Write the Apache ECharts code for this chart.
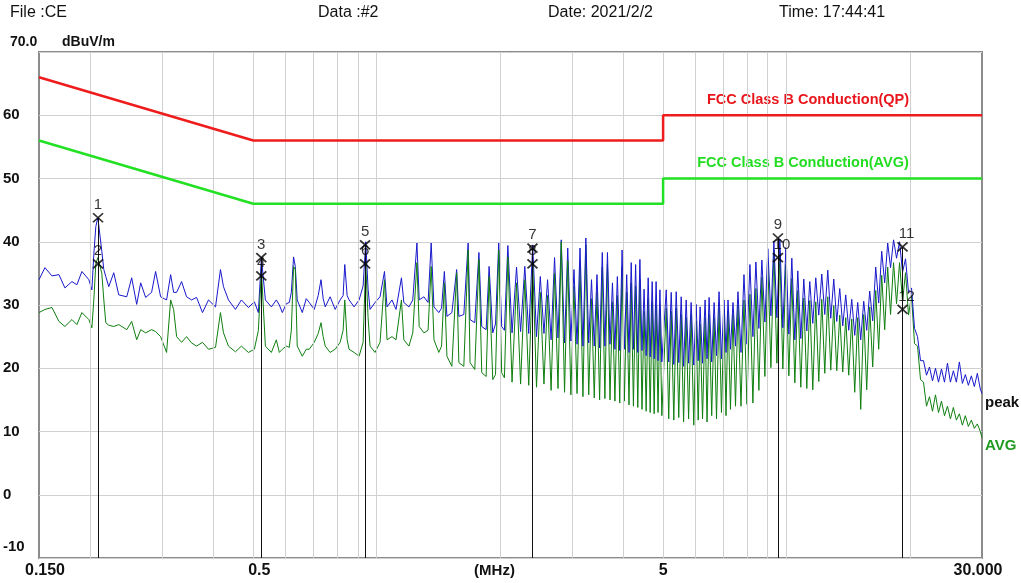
<!DOCTYPE html>
<html><head><meta charset="utf-8">
<script src="https://cdn.jsdelivr.net/npm/echarts@6/dist/echarts.min.js"></script>
<style>html,body{margin:0;padding:0;background:#fff}#c{width:1021px;height:583px}</style>
</head><body><div id="c"></div>
<script>
// ---- measured traces (MHz, dBuV) ----
const bandAFreq = [0.150,0.1551,0.1613,0.1678,0.1735,0.1805,0.1856,0.1909,0.1985,0.2019,0.2041,0.2064,0.2088,0.2111,0.2135,0.2159,0.2183,0.2220,0.2283,0.2348,0.2456,0.2525,0.2597,0.2656,0.2731,0.2824,0.2888,0.2971,0.3072,0.3143,0.3196,0.3250,0.3342,0.3437,0.3535,0.3635,0.3759,0.3888,0.4044,0.4158,0.4229,0.4349,0.4523,0.4677,0.4865,0.5031,0.5145,0.5233,0.5352,0.5535,0.5691];
const bandAPeak = [34.0,35.9,34.6,34.8,32.7,33.7,33.2,35.3,34.0,32.4,38.0,42.4,43.8,43.5,38.5,35.6,34.5,32.9,35.1,31.6,31.3,34.3,30.1,33.5,31.2,32.0,35.3,31.3,30.8,34.8,32.0,32.0,33.7,31.3,30.8,31.2,28.8,30.8,29.7,35.6,32.9,30.8,29.3,30.8,29.6,30.5,28.8,37.5,30.8,29.7,30.8];
const bandAAvg = [28.8,29.3,29.6,27.4,26.6,27.7,26.9,28.8,27.7,26.4,30.8,36.5,37.5,37.2,35.0,30.8,27.2,26.8,26.6,26.9,26.1,27.4,24.5,26.1,25.6,26.1,25.8,25.0,22.5,30.8,29.3,25.0,24.1,25.0,24.0,23.5,24.1,23.0,23.3,28.8,25.6,23.5,22.6,23.5,22.5,23.0,26.0,35.5,23.5,22.5,24.5];

const bandBFreq = [0.5788,0.5886,0.6019,0.6121,0.6192,0.627,0.6331,0.640,0.6585,0.6733,0.6848,0.7043,0.7201,0.7315,0.7405,0.7492,0.7699,0.792,0.8146,0.8283,0.836,0.8472,0.8566,0.881,0.9061,0.9267,0.9405,0.953,0.9636,0.991,1.0193,1.045,1.06,1.09,1.115,1.1495,1.165,1.199,1.225,1.254,1.27,1.304,1.335,1.3585,1.38,1.418,1.44,1.463,1.484,1.526,1.5675,1.587,1.632,1.672,1.69,1.7355,1.7765,1.805,1.85,1.881,1.92,1.95,1.9855,2.019,2.05,2.09];
const bandBPeak = [30.0,28.8,30.2,30.4,32.0,37.6,36.1,30.8,28.8,31.0,30.4,29.3,31.5,34.0,31.0,29.7,31.3,29.3,30.8,31.5,36.4,31.5,30.8,29.7,30.8,33.0,40.0,32.5,29.3,30.4,31.3,35.3,29.7,30.8,29.3,34.3,30.4,29.7,30.8,39.8,30.8,31.3,30.4,39.8,29.7,28.8,29.5,35.3,28.2,28.8,35.6,28.2,28.5,39.8,27.7,27.2,38.3,26.6,26.1,36.1,25.6,27.0,39.8,26.6,26.0,39.4];
const bandBAvg = [22.5,23.0,23.5,23.3,26.0,36.1,35.6,23.5,21.9,23.0,23.0,24.1,25.5,27.2,25.0,23.5,22.5,23.0,24.1,26.0,30.8,24.5,23.0,22.5,21.9,24.1,36.7,28.0,23.5,22.5,24.1,34.0,24.5,25.0,24.5,30.8,24.5,23.5,25.6,36.7,26.6,25.6,26.0,36.1,24.5,22.5,23.5,33.5,21.9,20.3,35.1,20.9,20.3,38.7,20.9,19.8,37.2,19.3,18.7,34.5,18.2,19.0,38.7,19.3,18.5,37.6];

const bandCFreq = [2.14,2.1945,2.245,2.299,2.35,2.4035,2.455,2.508,2.56,2.6125,2.665,2.717,2.77,2.8215,2.874,2.926,2.978,3.0305,3.083,3.135,3.187,3.2395,3.292,3.344,3.396,3.4485,3.50,3.553,3.605,3.6575,3.71,3.762,3.814,3.8665,3.919,3.971,4.023,4.0755,4.128,4.18,4.232,4.2845,4.337,4.389,4.441,4.4935,4.546,4.598,4.65,4.7025,4.755,4.807,4.86,4.9115,4.964,5.089,5.16,5.233,5.31,5.382,5.46,5.535,5.61,5.692,5.77,5.853,5.94,6.02,6.09,6.156,6.24,6.331,6.40,6.475,6.57,6.659,6.75,6.847,6.94,7.042,7.12,7.201,7.30,7.405,7.51,7.615];
const bandCPeak = [25.6,36.0,25.8,36.1,25.5,39.5,25.0,34.5,25.5,34.0,24.5,37.5,24.8,40.3,24.0,39.0,24.3,35.6,23.8,39.0,23.5,40.6,24.0,34.0,23.5,34.8,23.2,38.3,23.5,38.3,23.8,33.5,23.0,34.5,22.8,38.7,23.0,34.8,22.5,36.7,23.0,36.4,22.5,37.2,22.8,32.5,22.0,34.3,21.8,33.7,21.5,33.7,21.2,32.4,21.0,32.4,21.0,32.0,20.6,32.1,20.9,31.3,20.3,30.8,20.8,30.4,20.5,30.1,21.2,29.7,20.8,30.8,21.5,31.2,21.0,30.4,22.0,32.1,21.5,30.8,22.5,30.8,23.0,30.4,23.5,32.1];
const bandCAvg = [17.8,33.5,17.5,34.0,17.3,36.5,17.0,32.0,17.5,31.5,16.5,35.0,16.8,40.0,16.2,37.0,15.8,33.0,16.0,36.0,15.5,39.5,15.8,31.0,15.3,32.0,15.0,36.0,15.2,36.5,15.0,30.5,14.8,31.5,14.5,36.0,14.8,32.0,14.2,33.5,14.0,33.0,13.8,34.0,13.5,29.0,13.2,31.0,13.0,30.5,12.8,30.0,13.0,29.5,12.5,29.5,12.0,29.0,11.8,29.5,12.2,28.5,11.5,28.0,12.0,28.5,11.0,27.5,11.8,27.0,12.0,28.0,11.5,28.5,12.5,28.0,12.0,29.5,13.0,28.5,12.5,29.0,13.5,28.5,14.0,30.0];

const bandDFreq = [7.745,7.876,8.009,8.144,8.281,8.422,8.564,8.710,8.857,9.007,9.162,9.317,9.476,9.636,9.799,9.966,10.135,10.306,10.481,10.659,10.839,11.023,11.210,11.400,11.594,11.790,11.990,12.194,12.401,12.612,12.826,13.043,13.265,13.490,13.719,13.952,14.189,14.430,14.675,14.924,15.177,15.435,15.697,15.963,16.234,16.510,16.790,17.075,17.365,17.660,17.947,18.252,18.562,18.877,19.197,19.523,19.854,20.191,20.534,20.882,21.237,21.597,21.964,22.336,22.715,23.101,23.493,23.891,24.297,24.709,25.119,25.545,25.979,26.420,26.868,27.324,27.788,28.259,28.739,29.227,29.717,30.0];
const bandDPeak = [22.5,34.8,23.8,36.4,25.0,36.8,26.3,37.1,27.3,38.9,28.3,40.1,28.0,40.4,26.4,39.1,25.4,37.4,24.5,35.4,24.7,34.1,25.9,33.7,27.1,34.3,28.4,34.9,28.5,35.5,27.9,34.1,27.4,32.6,26.7,31.6,26.0,30.9,25.2,30.4,24.5,30.6,26.0,32.2,27.5,36.0,30.3,38.5,33.5,39.8,35.9,40.3,37.4,40.0,35.2,37.3,32.0,32.7,26.3,25.0,21.2,21.2,18.9,20.2,18.0,20.0,17.8,19.9,17.8,20.8,17.8,19.6,17.8,21.0,17.6,19.0,17.3,18.8,17.1,19.2,16.7,16.0];
const bandDAvg = [14.0,30.8,14.3,31.7,14.5,32.6,16.5,34.4,18.7,36.7,20.1,38.7,20.8,38.3,19.9,36.4,18.8,34.2,17.7,32.3,17.0,31.1,16.8,30.7,16.6,30.5,17.9,30.9,19.2,31.3,19.7,29.9,19.6,28.4,19.4,28.0,18.9,27.8,16.2,28.0,13.5,28.5,16.6,29.7,20.2,32.3,23.0,34.7,26.1,36.0,28.5,36.7,30.2,36.7,30.6,35.1,28.4,31.5,23.9,23.5,18.2,17.8,14.0,15.5,13.2,15.8,13.0,14.8,12.5,14.0,12.0,13.8,11.8,12.8,11.0,12.5,10.8,11.8,10.5,11.2,10.0,9.0];

// ---- limits ----
const limitFreq = [0.15, 0.5, 5, 5, 30];
const qpLimit = [66, 56, 56, 60, 60];
const avgLimit = [56, 46, 46, 50, 50];

// ---- markers ----
const markerName = ['1','2','3','4','5','6','7','8','9','10','11','12'];
const markerFreq = [0.209,0.209,0.523,0.523,0.937,0.937,2.40,2.40,9.53,9.53,19.2,19.2];
const markerLevel = [43.8,36.5,37.5,34.6,39.5,36.5,39.0,36.5,40.6,37.5,39.2,29.3];

// ---- axes ----
const gridFreqs = [0.2,0.3,0.4,0.5,0.6,0.7,0.8,0.9,1,2,3,4,5,6,7,8,9,10,20];
const xTickValues = [0.15, 0.5, 5, 30];
const xTickText = ['0.150', '0.5', '5', '30.000'];
const yMin = -10, yMax = 70, yStep = 10;

// ---- texts ----
const headerTexts = ['File :CE', 'Data :#2', 'Date: 2021/2/2', 'Time: 17:44:41'];
const unitText = 'dBuV/m';
const topTickText = '70.0';
const qpLimitName = 'FCC Class B Conduction(QP)';
const avgLimitName = 'FCC Class B Conduction(AVG)';

const FONT = "'Liberation Sans', Arial, sans-serif";
const zip = (fs, vs) => fs.map((f, i) => [f, vs[i]]);
const freqs = [].concat(bandAFreq, bandBFreq, bandCFreq, bandDFreq);
const peak = [].concat(bandAPeak, bandBPeak, bandCPeak, bandDPeak);
const avg = [].concat(bandAAvg, bandBAvg, bandCAvg, bandDAvg);
const peakPts = zip(freqs, peak);
// above ~3 MHz the peak trace is drawn over the average trace
const layerSplit = freqs.findIndex(f => f >= 2.95);

const chart = echarts.init(document.getElementById('c'));
const traceBase = {type: 'line', showSymbol: false, symbol: 'none', silent: true};
const option = {
  animation: false,
  backgroundColor: '#ffffff',
  grid: {left: 36, top: 52, width: 946, height: 507, show: true, borderColor: '#8c8c8c', borderWidth: 2, backgroundColor: 'transparent'},
  xAxis: {
    type: 'log', logBase: 10, min: 0.15, max: 30,
    axisLine: {show: false}, axisTick: {show: false}, splitLine: {show: false}, axisLabel: {show: false},
    name: '(MHz)', nameLocation: 'middle', nameGap: 5,
    nameTextStyle: {fontFamily: FONT, fontWeight: 'bold', fontSize: 15, color: '#111', padding: [0, 32, 0, 0], verticalAlign: 'top'}
  },
  yAxis: {
    type: 'value', min: yMin, max: yMax, interval: yStep,
    axisLine: {show: false}, axisTick: {show: false},
    splitLine: {lineStyle: {color: '#d0d0d0', width: 1}},
    axisLabel: {
      align: 'left', margin: 36, fontFamily: FONT, fontWeight: 'bold', fontSize: 15, color: '#111',
      formatter: v => v === yMax ? '' : (v === yMin ? '{b|' + v + '}' : String(v)),
      rich: {b: {fontFamily: FONT, fontWeight: 'bold', fontSize: 15, color: '#111', padding: [0, 0, 22, 0]}}
    }
  },
  series: [
    {type: 'line', name: 'grid', data: [], silent: true, z: 1,
     markLine: {silent: true, animation: false, symbol: ['none', 'none'], label: {show: false},
       lineStyle: {color: '#d0d0d0', width: 1, type: 'solid'}, emphasis: {disabled: true},
       data: gridFreqs.map(f => ({xAxis: f}))}},
    {type: 'line', name: 'markerLines', data: [], silent: true, z: 2,
     markLine: {silent: true, animation: false, symbol: ['none', 'none'], label: {show: false},
       lineStyle: {color: '#111', width: 1, type: 'solid'}, emphasis: {disabled: true},
       data: markerFreq.map((f, i) => [{coord: [f, markerLevel[i]]}, {coord: [f, yMin]}])}},
    Object.assign({}, traceBase, {name: 'peak', data: peakPts.slice(0, layerSplit + 1), z: 3,
     lineStyle: {color: '#1818cc', width: 1}}),
    Object.assign({}, traceBase, {name: 'AVG', data: zip(freqs, avg), z: 4,
     lineStyle: {color: '#0f7f0f', width: 1}}),
    Object.assign({}, traceBase, {name: 'peak', data: peakPts.slice(layerSplit), z: 4.5,
     lineStyle: {color: '#1818cc', width: 1}}),
    Object.assign({}, traceBase, {name: 'QP limit', data: zip(limitFreq, qpLimit), z: 5,
     lineStyle: {color: '#ee1c1c', width: 2.5}}),
    Object.assign({}, traceBase, {name: 'AVG limit', data: zip(limitFreq, avgLimit), z: 5,
     lineStyle: {color: '#22e022', width: 2.5}}),
    {type: 'scatter', name: 'markers', z: 6, silent: true,
     data: markerFreq.map((f, i) => ({value: [f, markerLevel[i]], label: {offset: [markerName[i].length > 1 ? 4 : 0, 0]}})),
     symbol: 'path://M0,0L10,10M10,0L0,10', symbolSize: [10, 9],
     itemStyle: {color: 'rgba(0,0,0,0)', borderColor: '#000', borderWidth: 1.7},
     label: {show: true, position: 'top', distance: 0, formatter: p => markerName[p.dataIndex],
       fontFamily: FONT, fontSize: 15, color: '#000'}}
  ]
};
chart.setOption(option);

// texts placed after layout; x tick labels positioned through the axis scale
const tickDx = [6, 6, 0, -4];
const graphics = [];
const headerX = [10, 318, 548, 779];
headerTexts.forEach((t, i) => graphics.push({type: 'text', left: headerX[i], top: 5,
  style: {text: t, font: '16px ' + FONT, fill: '#111'}}));
graphics.push({type: 'text', left: 10, top: 35, style: {text: topTickText, font: 'bold 14px ' + FONT, fill: '#111'}});
graphics.push({type: 'text', left: 62, top: 35, style: {text: unitText, font: 'bold 14px ' + FONT, fill: '#111'}});
xTickValues.forEach((v, i) => {
  const px = chart.convertToPixel({xAxisIndex: 0}, v);
  graphics.push({type: 'text', x: px + tickDx[i], y: 563,
    style: {text: xTickText[i], font: 'bold 16px ' + FONT, fill: '#111', align: 'center', verticalAlign: 'top'}});
});
graphics.push({type: 'text', x: 808, y: 100, style: {text: qpLimitName, font: 'bold 14.5px ' + FONT, fill: '#e8161c', align: 'center', verticalAlign: 'middle'}});
graphics.push({type: 'text', x: 803, y: 163, style: {text: avgLimitName, font: 'bold 14.5px ' + FONT, fill: '#22dd22', align: 'center', verticalAlign: 'middle'}});
graphics.push({type: 'text', x: 985, y: 403, style: {text: 'peak', font: 'bold 15px ' + FONT, fill: '#111', align: 'left', verticalAlign: 'middle'}});
graphics.push({type: 'text', x: 985, y: 446, style: {text: 'AVG', font: 'bold 15px ' + FONT, fill: '#1f9a1f', align: 'left', verticalAlign: 'middle'}});
chart.setOption({graphic: graphics});
</script>
</body></html>
